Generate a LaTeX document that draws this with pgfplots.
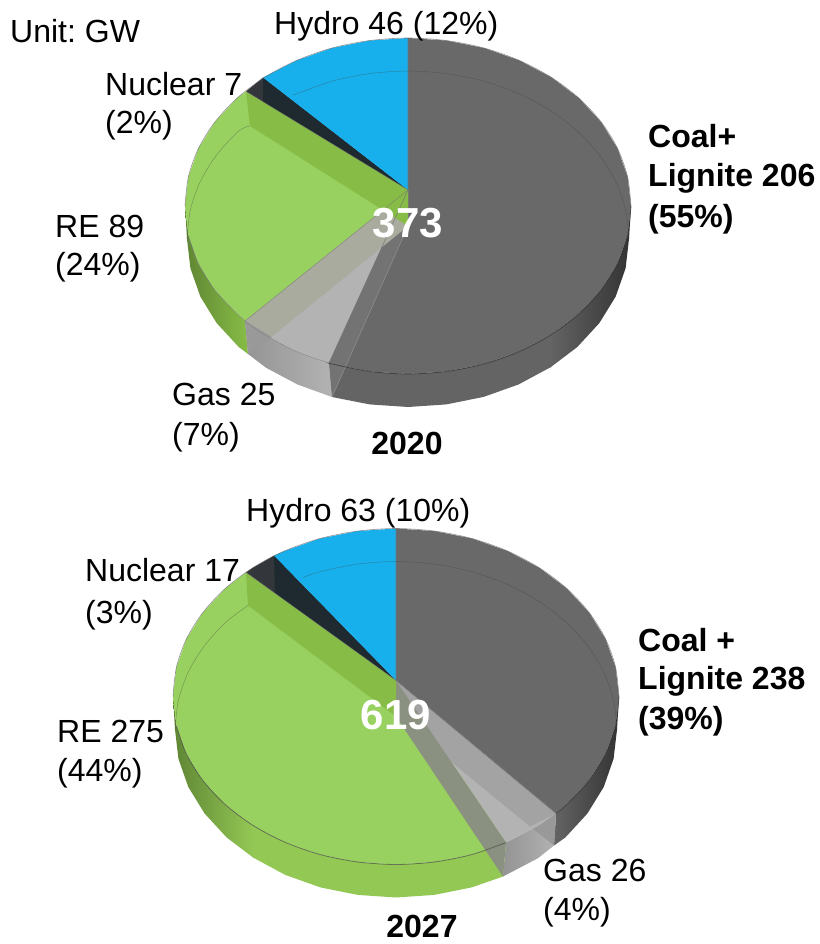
\documentclass[border=0pt]{standalone}
\usepackage{fontspec}
\setmainfont{Liberation Sans}
\usepackage{pgfplots}
\pgfplotsset{compat=1.18}
\definecolor{coal}{HTML}{696969}
\definecolor{coalband}{HTML}{737373}
\definecolor{hydro}{HTML}{17B0EC}
\definecolor{re}{HTML}{98D15F}
\definecolor{reband}{HTML}{87BD46}
\definecolor{rewall}{HTML}{93C855}
\definecolor{rewalld}{HTML}{5F8533}
\definecolor{nuc}{HTML}{33363A}
\definecolor{nucd}{HTML}{1F2A30}
\definecolor{gas}{HTML}{B3B3B3}
\definecolor{gband}{HTML}{A9AB9F}
\definecolor{gband2}{HTML}{8B9181}
\newcommand{\lab}{\fontsize{32}{36}\selectfont}
\newcommand{\bignum}{\fontsize{42}{46}\selectfont\bfseries}
\pgfplotsset{pie/.style={scale only axis,width=819pt,height=944pt,hide axis,y dir=reverse,clip=false,at={(0,0)},anchor=south west}}
\begin{document}
\frenchspacing
\begin{tikzpicture}
\useasboundingbox (0,0) rectangle (819pt,944pt);
% ---------- 2027 (same disk, shifted axis window)
\begin{axis}[pie,xmin=12,xmax=831,ymin=-490.5,ymax=453.5]
\addplot[draw=none,left color=coal!95!black,right color=black!80] coordinates {(631,206)(627.6,235.2)(617.6,263.5)(601.1,290)(578.8,314)(568,323)(566,355)(577.3,347)(599.4,323)(615.7,296.5)(625.6,268.2)(629,239)} --cycle;
\addplot[draw=none,left color=black!42,right color=black!30] coordinates {(568,323)(551.3,334.7)(518,352)(515,386)(550,367.7)(566,355)} --cycle;
\addplot[draw=none,fill=black!40] coordinates {(568,323)(542,336)(566,355)} --cycle;
\addplot[draw=none,left color=rewalld,right color=rewall] coordinates {(264.7,334.7)(237.2,314)(214.9,290)(198.4,263.5)(188.4,235.2)(185,206)(187,239)(190.4,268.2)(200.3,296.5)(216.6,323)(238.7,347)(266,367.7)} --cycle;
\addplot[draw=none,fill=rewall] coordinates {(518,352)(484.3,363.9)(446.7,371.4)(408,374)(369.3,371.4)(331.7,363.9)(296.5,351.5)(263.7,334)(265,367)(297.5,384.5)(332.4,396.9)(369.6,404.4)(408,407)(446.4,404.4)(483.6,396.9)(515,386)} --cycle;
\addplot[draw=none,fill=coal] coordinates {(408,190)(408,38)(446.7,40.6)(484.3,48.1)(519.5,60.5)(551.3,77.3)(578.8,98)(601.1,122)(617.6,148.5)(627.6,176.8)(631,206)(627.6,235.2)(617.6,263.5)(601.1,290)(578.8,314)(568,323)} --cycle;
\addplot[draw=none,fill=gas] coordinates {(408,190)(568,323)(551.3,334.7)(518,352)} --cycle;
\addplot[draw=none,fill=re] coordinates {(408,190)(518,352)(484.3,363.9)(446.7,371.4)(408,374)(369.3,371.4)(331.7,363.9)(296.5,351.5)(264.7,334.7)(237.2,314)(214.9,290)(198.4,263.5)(188.4,235.2)(185,206)(188.4,176.8)(198.4,148.5)(214.9,122)(237.2,98)(258,82)} --cycle;
\addplot[draw=none,fill=nuc] coordinates {(408,190)(258,82)(264.7,77.3)(286,65)} --cycle;
\addplot[draw=none,fill=nucd] coordinates {(408,190)(286,65)(287,102.5)} --cycle;
\addplot[draw=none,fill=hydro] coordinates {(408,190)(286,65)(296.5,60.5)(331.7,48.1)(369.3,40.6)(408,38)} --cycle;
\addplot[draw=none,fill=black!36] coordinates {(408,190)(568,323)(542,336)(408,226)} --cycle;
\addplot[draw=none,fill=gband2] coordinates {(408,190)(518,352)(515,386)(408,226)} --cycle;
\addplot[draw=none,fill=reband] coordinates {(408,190)(258,82)(260,115)(408,226)} --cycle;
% rim and thin lines
\addplot[smooth,black!75,line width=0.5pt,opacity=.4] coordinates {(187,239)(190.4,209.8)(200.3,181.5)(216.6,155)(238.7,131)(260,115)};
\addplot[smooth,black!75,line width=0.5pt,opacity=.4] coordinates {(315,87)(332.4,81.1)(369.6,73.6)(408,71)(446.4,73.6)(483.6,81.1)(518.5,93.5)(550,110.3)(577.3,131)(599.4,155)(615.7,181.5)(625.6,209.8)(629,239)};
\addplot[smooth,black!70,line width=0.8pt,opacity=.7] coordinates {(518,352)(484.3,363.9)(446.7,371.4)(408,374)(369.3,371.4)(331.7,363.9)(296.5,351.5)(264.7,334.7)(237.2,314)(214.9,290)(198.4,263.5)(188.4,235.2)};
\addplot[smooth,black!80,line width=0.8pt,opacity=.7] coordinates {(631,206)(627.6,235.2)(617.6,263.5)(601.1,290)(578.8,314)(568,323)};
\addplot[smooth,black!60,line width=0.6pt,opacity=.7] coordinates {(185,206)(188.4,176.8)(198.4,148.5)(214.9,122)(237.2,98)(264.7,77.3)(296.5,60.5)(331.7,48.1)(369.3,40.6)(408,38)(446.7,40.6)(484.3,48.1)(519.5,60.5)(551.3,77.3)(578.8,98)(601.1,122)(617.6,148.5)(627.6,176.8)(631,206)};
\addplot[black!55,line width=0.6pt,opacity=.8] coordinates {(408,38)(408,190)(568,323)};
\addplot[black!55,line width=0.6pt,opacity=.6] coordinates {(408,190)(258,82)};
\end{axis}
% ---------- 2020 and all texts
\begin{axis}[pie,xmin=0,xmax=819,ymin=0,ymax=944]
\addplot[draw=none,left color=coal!95!black,right color=black!80] coordinates {(551.3,334.7)(578.8,314)(601.1,290)(617.6,263.5)(627.6,235.2)(631,206)(629,239)(625.6,268.2)(615.7,296.5)(599.4,323)(577.3,347)(550,367.7)} --cycle;
\addplot[draw=none,fill=coal!95!black] coordinates {(329,363)(331.7,363.9)(369.3,371.4)(408,374)(446.7,371.4)(484.3,363.9)(519.5,351.5)(552.3,334)(551,367)(518.5,384.5)(483.6,396.9)(446.4,404.4)(408,407)(369.6,404.4)(332,397)} --cycle;
\addplot[draw=none,left color=black!42,right color=black!30] coordinates {(245,321)(264.7,334.7)(296.5,351.5)(329,363)(332,397)(297.5,384.5)(266,367.7)(248,354)} --cycle;
\addplot[draw=none,left color=rewalld,right color=reband] coordinates {(245,321)(237.2,314)(214.9,290)(198.4,263.5)(188.4,235.2)(185,206)(187,239)(190.4,268.2)(200.3,296.5)(216.6,323)(238.7,347)(248,354)} --cycle;
\addplot[draw=none,fill=coal] coordinates {(408,190)(408,38)(446.7,40.6)(484.3,48.1)(519.5,60.5)(551.3,77.3)(578.8,98)(601.1,122)(617.6,148.5)(627.6,176.8)(631,206)(627.6,235.2)(617.6,263.5)(601.1,290)(578.8,314)(551.3,334.7)(519.5,351.5)(484.3,363.9)(446.7,371.4)(408,374)(369.3,371.4)(331.7,363.9)(329,363)} --cycle;
\addplot[draw=none,fill=gas] coordinates {(408,190)(329,363)(296.5,351.5)(264.7,334.7)(245,321)} --cycle;
\addplot[draw=none,fill=re] coordinates {(408,190)(245,321)(237.2,314)(214.9,290)(198.4,263.5)(188.4,235.2)(185,206)(188.4,176.8)(198.4,148.5)(214.9,122)(237.2,98)(246,91.5)} --cycle;
\addplot[draw=none,fill=nuc] coordinates {(408,190)(246,91.5)(263,77.5)} --cycle;
\addplot[draw=none,fill=nucd] coordinates {(408,190)(263,77.5)(263,102)} --cycle;
\addplot[draw=none,fill=hydro] coordinates {(408,190)(263,77.5)(296.5,60.5)(331.7,48.1)(369.3,40.6)(408,38)} --cycle;
\addplot[draw=none,fill=coalband] coordinates {(408,190)(329,363)(332,397)(408,226)} --cycle;
\addplot[draw=none,fill=gband] coordinates {(408,190)(245,321)(271.7,336.7)(408,226)} --cycle;
\addplot[draw=none,fill=black!40] coordinates {(245,321)(271.7,336.7)(248,354)} --cycle;
\addplot[draw=none,fill=reband] coordinates {(408,190)(246,91.5)(250,126)(408,226)} --cycle;
% thin lines
\addplot[smooth,black!75,line width=0.5pt,opacity=.4] coordinates {(187,239)(190.4,209.8)(200.3,181.5)(216.6,155)(238.7,131)(250,126)};
\addplot[smooth,black!75,line width=0.5pt,opacity=.4] coordinates {(293,95)(297.5,93.5)(332.4,81.1)(369.6,73.6)(408,71)(446.4,73.6)(483.6,81.1)(518.5,93.5)(550,110.3)(577.3,131)(599.4,155)(615.7,181.5)(625.6,209.8)(629,239)};
\addplot[black!45,line width=0.6pt] coordinates {(408,226)(332,397)};
\addplot[smooth,black!80,line width=0.8pt,opacity=.7] coordinates {(631,206)(627.6,235.2)(617.6,263.5)(601.1,290)(578.8,314)(551.3,334.7)(519.5,351.5)(484.3,363.9)(446.7,371.4)(408,374)(369.3,371.4)(331.7,363.9)(329,363)};
\addplot[smooth,black!50,line width=0.6pt,opacity=.7] coordinates {(329,363)(296.5,351.5)(264.7,334.7)(245,321)(237.2,314)(214.9,290)(198.4,263.5)(188.4,235.2)};
\addplot[smooth,black!60,line width=0.6pt,opacity=.7] coordinates {(185,206)(188.4,176.8)(198.4,148.5)(214.9,122)(237.2,98)(264.7,77.3)(296.5,60.5)(331.7,48.1)(369.3,40.6)(408,38)(446.7,40.6)(484.3,48.1)(519.5,60.5)(551.3,77.3)(578.8,98)(601.1,122)(617.6,148.5)(627.6,176.8)(631,206)};
\addplot[black!55,line width=0.6pt,opacity=.8] coordinates {(408,38)(408,190)(329,363)};
\addplot[black!55,line width=0.6pt,opacity=.6] coordinates {(246,91.5)(408,190)(245,321)};
% texts 2020
\tikzset{t/.style={anchor=base west,inner sep=0pt,font=\lab},b/.style={anchor=base west,inner sep=0pt,font=\lab\bfseries}}
\node[t] at (axis cs:10,43) {Unit: GW};
\node[t] at (axis cs:274,35) {Hydro 46 (12\%)};
\node[t] at (axis cs:105,96) {Nuclear 7};
\node[t] at (axis cs:105,134) {(2\%)};
\node[b] at (axis cs:648,148) {Coal+};
\node[b] at (axis cs:648,186) {Lignite 206};
\node[b] at (axis cs:648,227) {(55\%)};
\node[t] at (axis cs:55,237) {RE 89};
\node[t] at (axis cs:55,275) {(24\%)};
\node[t] at (axis cs:172,405) {Gas 25};
\node[t] at (axis cs:172,445) {(7\%)};
\node[anchor=base,inner sep=0pt,font=\lab\bfseries] at (axis cs:407,454) {2020};
\node[anchor=base,inner sep=0pt,font=\bignum,text=white] at (axis cs:408,237) {373};
% texts 2027
\node[t] at (axis cs:246,521) {Hydro 63 (10\%)};
\node[t] at (axis cs:85,581) {Nuclear 17};
\node[t] at (axis cs:85,623) {(3\%)};
\node[b] at (axis cs:638,651) {Coal +};
\node[b] at (axis cs:638,689) {Lignite 238};
\node[b] at (axis cs:638,729) {(39\%)};
\node[t] at (axis cs:57,742) {RE 275};
\node[t] at (axis cs:57,781) {(44\%)};
\node[t] at (axis cs:543,881) {Gas 26};
\node[t] at (axis cs:543,920) {(4\%)};
\node[anchor=base,inner sep=0pt,font=\lab\bfseries] at (axis cs:422,937) {2027};
\node[anchor=base,inner sep=0pt,font=\bignum,text=white] at (axis cs:396,729) {619};
\end{axis}
\end{tikzpicture}
\end{document}
